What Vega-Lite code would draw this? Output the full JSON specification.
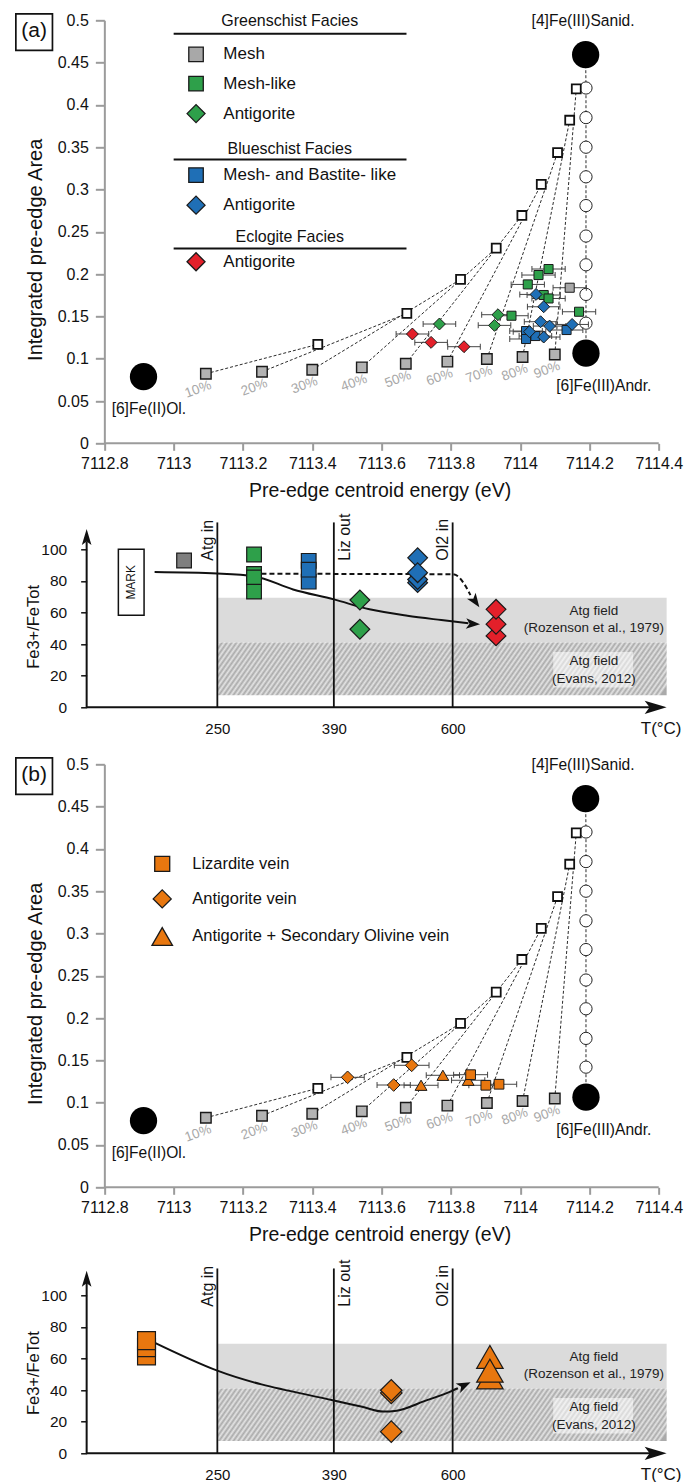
{
"$schema":"https://vega.github.io/schema/vega-lite/v6.json",
"padding":{"left":11.65,"top":10.3,"right":5,"bottom":0},
"spacing":57,
"bounds":"flush",
"config":{"view":{"stroke":null},"axis":{"grid":false},"font":"Liberation Sans"},
"resolve":{"scale":{"fill":"independent"}},
"datasets":{
"ref":[
{"k":"Ol","p":0,"x":7112.913,"y":0.0788},
{"k":"Sanid","p":100,"x":7114.189,"y":0.4594},
{"k":"Andr","p":100,"x":7114.19,"y":0.1065},
{"k":"AndrSanid","p":10,"x":7114.19,"y":0.142},
{"k":"AndrSanid","p":20,"x":7114.19,"y":0.176},
{"k":"AndrSanid","p":30,"x":7114.19,"y":0.211},
{"k":"AndrSanid","p":40,"x":7114.19,"y":0.245},
{"k":"AndrSanid","p":50,"x":7114.19,"y":0.281},
{"k":"AndrSanid","p":60,"x":7114.19,"y":0.315},
{"k":"AndrSanid","p":70,"x":7114.19,"y":0.35},
{"k":"AndrSanid","p":80,"x":7114.19,"y":0.385},
{"k":"AndrSanid","p":90,"x":7114.19,"y":0.42},
{"k":"OlAndr","p":10,"lab":"10%","x":7113.093,"y":0.0822},
{"k":"OlAndr","p":20,"lab":"20%","x":7113.255,"y":0.0846},
{"k":"OlAndr","p":30,"lab":"30%","x":7113.4,"y":0.087},
{"k":"OlAndr","p":40,"lab":"40%","x":7113.543,"y":0.0898},
{"k":"OlAndr","p":50,"lab":"50%","x":7113.67,"y":0.0941},
{"k":"OlAndr","p":60,"lab":"60%","x":7113.79,"y":0.0965},
{"k":"OlAndr","p":70,"lab":"70%","x":7113.904,"y":0.0996},
{"k":"OlAndr","p":80,"lab":"80%","x":7114.007,"y":0.102},
{"k":"OlAndr","p":90,"lab":"90%","x":7114.1,"y":0.105},
{"k":"OlSanid","p":10,"x":7113.416,"y":0.117},
{"k":"OlSanid","p":20,"x":7113.673,"y":0.1535},
{"k":"OlSanid","p":30,"x":7113.828,"y":0.1937},
{"k":"OlSanid","p":40,"x":7113.931,"y":0.2307},
{"k":"OlSanid","p":50,"x":7114.005,"y":0.2693},
{"k":"OlSanid","p":60,"x":7114.061,"y":0.3061},
{"k":"OlSanid","p":70,"x":7114.108,"y":0.3437},
{"k":"OlSanid","p":80,"x":7114.143,"y":0.3819},
{"k":"OlSanid","p":90,"x":7114.162,"y":0.4189}
],
"sA":[
{"grp":"GS Mesh-like","x":7114.082,"y":0.206,"lo":7114.034,"hi":7114.13},
{"grp":"GS Mesh-like","x":7114.053,"y":0.1989,"lo":7114.005,"hi":7114.101},
{"grp":"GS Mesh-like","x":7114.022,"y":0.1878,"lo":7113.974,"hi":7114.07},
{"grp":"GS Mesh-like","x":7114.068,"y":0.1753,"lo":7114.02,"hi":7114.116},
{"grp":"GS Mesh-like","x":7114.082,"y":0.1712,"lo":7114.034,"hi":7114.13},
{"grp":"GS Mesh-like","x":7114.17,"y":0.1555,"lo":7114.122,"hi":7114.218},
{"grp":"GS Mesh-like","x":7113.975,"y":0.1508,"lo":7113.927,"hi":7114.023},
{"grp":"GS Mesh","x":7114.143,"y":0.1839,"lo":7114.095,"hi":7114.191},
{"grp":"BS Mesh/Bastite","x":7114.017,"y":0.1327,"lo":7113.97,"hi":7114.064},
{"grp":"BS Mesh/Bastite","x":7114.044,"y":0.1268,"lo":7113.997,"hi":7114.091},
{"grp":"BS Mesh/Bastite","x":7114.017,"y":0.1233,"lo":7113.97,"hi":7114.064},
{"grp":"BS Mesh/Bastite","x":7114.134,"y":0.1339,"lo":7114.087,"hi":7114.181},
{"grp":"GS Antigorite","x":7113.767,"y":0.141,"lo":7113.72,"hi":7113.814},
{"grp":"GS Antigorite","x":7113.936,"y":0.152,"lo":7113.889,"hi":7113.983},
{"grp":"GS Antigorite","x":7113.926,"y":0.1394,"lo":7113.879,"hi":7113.973},
{"grp":"EC Antigorite","x":7113.689,"y":0.1292,"lo":7113.642,"hi":7113.736},
{"grp":"EC Antigorite","x":7113.743,"y":0.1193,"lo":7113.696,"hi":7113.79},
{"grp":"EC Antigorite","x":7113.838,"y":0.1142,"lo":7113.791,"hi":7113.885},
{"grp":"BS Antigorite","x":7114.046,"y":0.176,"lo":7113.999,"hi":7114.093},
{"grp":"BS Antigorite","x":7114.068,"y":0.1614,"lo":7114.021,"hi":7114.115},
{"grp":"BS Antigorite","x":7114.059,"y":0.1437,"lo":7114.012,"hi":7114.106},
{"grp":"BS Antigorite","x":7114.085,"y":0.1386,"lo":7114.038,"hi":7114.132},
{"grp":"BS Antigorite","x":7114.15,"y":0.1405,"lo":7114.103,"hi":7114.197},
{"grp":"BS Antigorite","x":7114.027,"y":0.1319,"lo":7113.98,"hi":7114.074},
{"grp":"BS Antigorite","x":7114.068,"y":0.1256,"lo":7114.021,"hi":7114.115}
],
"lgA":[
{"x":7113.0646,"y":0.4598,"grp":"GS Mesh","t":"Mesh"},
{"x":7113.0646,"y":0.4251,"grp":"GS Mesh-like","t":"Mesh-like"},
{"x":7113.0646,"y":0.3897,"grp":"GS Antigorite","t":"Antigorite"},
{"x":7113.0646,"y":0.317,"grp":"BS Mesh/Bastite","t":"Mesh- and Bastite- like"},
{"x":7113.0646,"y":0.2815,"grp":"BS Antigorite","t":"Antigorite"},
{"x":7113.0646,"y":0.2146,"grp":"EC Antigorite","t":"Antigorite"}
],
"hdA":[
{"x":7113.335,"y":0.4994,"t":"Greenschist Facies"},
{"x":7113.335,"y":0.3484,"t":"Blueschist Facies"},
{"x":7113.335,"y":0.2433,"t":"Eclogite Facies"}
],
"hrA":[
{"x":7113.0,"x2":7113.672,"y":0.4842},
{"x":7113.0,"x2":7113.672,"y":0.3354},
{"x":7113.0,"x2":7113.672,"y":0.2303}
],
"ann":[
{"x":7114.033,"y":0.4994,"t":"[4]Fe(III)Sanid."},
{"x":7114.104,"y":0.0675,"t":"[6]Fe(III)Andr."},
{"x":7112.821,"y":0.041,"t":"[6]Fe(II)Ol."}
],
"xax":[{"x":7112.8,"x2":7114.4,"y":0}],
"sB":[
{"grp":"Antigorite vein","x":7113.502,"y":0.13,"lo":7113.454,"hi":7113.55},
{"grp":"Antigorite vein","x":7113.635,"y":0.1209,"lo":7113.587,"hi":7113.683},
{"grp":"Antigorite vein","x":7113.687,"y":0.1442,"lo":7113.637,"hi":7113.737},
{"grp":"Atg + Ol2 vein","x":7113.714,"y":0.1206,"lo":7113.665,"hi":7113.763},
{"grp":"Atg + Ol2 vein","x":7113.777,"y":0.1324,"lo":7113.729,"hi":7113.825},
{"grp":"Atg + Ol2 vein","x":7113.85,"y":0.1265,"lo":7113.802,"hi":7113.898},
{"grp":"Lizardite vein","x":7113.857,"y":0.1331,"lo":7113.808,"hi":7113.906},
{"grp":"Lizardite vein","x":7113.901,"y":0.1206,"lo":7113.852,"hi":7113.95},
{"grp":"Lizardite vein","x":7113.939,"y":0.1218,"lo":7113.89,"hi":7113.99}
],
"lgB":[
{"x":7112.967,"y":0.3823,"grp":"Lizardite vein","t":"Lizardite vein"},
{"x":7112.967,"y":0.3409,"grp":"Antigorite vein","t":"Antigorite vein"},
{"x":7112.967,"y":0.2965,"grp":"Atg + Ol2 vein","t":"Antigorite + Secondary Olivine vein"}
],
"vl":[{"x":250,"y":0,"y2":117},{"x":390,"y":0,"y2":117},{"x":600,"y":0,"y2":117}],
"vlt":[{"x":250,"y":92.8,"t":"Atg in"},{"x":390,"y":92.8,"t":"Liz out"},{"x":600,"y":92.8,"t":"Ol2 in"}],
"fld":[
{"f":"Rozenson","x":250,"x2":900,"y":41,"y2":69.3},
{"f":"Evans","x":250,"x2":900,"y":7.7,"y2":41}
],
"evbox":[{"x":741,"x2":853,"y":12.5,"y2":35}],
"ft":[
{"x":798,"y":61,"t":"Atg field"},
{"x":798,"y":50.5,"t":"(Rozenson et al., 1979)"},
{"x":798,"y":29.5,"t":"Atg field"},
{"x":798,"y":18.2,"t":"(Evans, 2012)"}
],
"xaxF":[{"x":100,"x2":880,"y":0}],
"xheadF":[{"x":884.6,"y":0}],
"fA":[
{"grp":"GS Mesh","x":211.8,"y":92.9},
{"grp":"GS Mesh-like","x":294.1,"y":96.7},
{"grp":"GS Mesh-like","x":294.1,"y":84.4},
{"grp":"GS Mesh-like","x":294.1,"y":82.2},
{"grp":"GS Mesh-like","x":294.1,"y":73.2},
{"grp":"BS Mesh/Bastite","x":359.8,"y":92.7},
{"grp":"BS Mesh/Bastite","x":359.8,"y":79.5},
{"grp":"BS Mesh/Bastite","x":359.8,"y":87.1},
{"grp":"GS Antigorite","x":436,"y":67.9},
{"grp":"GS Antigorite","x":436,"y":49.4},
{"grp":"BS Antigorite","x":538.1,"y":94.6},
{"grp":"BS Antigorite","x":538.1,"y":78.9},
{"grp":"BS Antigorite","x":538.1,"y":80.9},
{"grp":"BS Antigorite","x":538.1,"y":85.2},
{"grp":"EC Antigorite","x":660.8,"y":45.2},
{"grp":"EC Antigorite","x":660.8,"y":52.6},
{"grp":"EC Antigorite","x":660.8,"y":62}
],
"fB":[
{"grp":"Lizardite vein","x":168.7,"y":61.6},
{"grp":"Lizardite vein","x":168.7,"y":66.9},
{"grp":"Lizardite vein","x":168.7,"y":71.3},
{"grp":"Antigorite vein","x":491.5,"y":13.7},
{"grp":"Antigorite vein","x":491.5,"y":38.2},
{"grp":"Antigorite vein","x":491.5,"y":39.9},
{"grp":"Atg + Ol2 vein","x":652.2,"y":61},
{"grp":"Atg + Ol2 vein","x":652.2,"y":48},
{"grp":"Atg + Ol2 vein","x":652.2,"y":52.3}
],
"cA":[
{"x":178,"y":85.6},{"x":250,"y":84.7},{"x":294,"y":83},{"x":341,"y":74.6},{"x":390,"y":68.3},{"x":453,"y":62},{"x":520,"y":57.9},{"x":580,"y":55.2},{"x":622,"y":53.2}
],
"dA":[
{"x":303,"y":84.5},{"x":600,"y":84.2},{"x":609,"y":82.3},{"x":617,"y":77.5},{"x":625,"y":71}
],
"cB":[
{"x":175.4,"y":70.7},{"x":250,"y":52.3},{"x":390,"y":33.4},{"x":440,"y":29.4},{"x":477,"y":26.4},{"x":501,"y":27},{"x":550,"y":33},{"x":600,"y":39.7},{"x":607.3,"y":41.2}
]
},
"vconcat":[
{
"width":580,"height":423,
"encoding":{
"x":{"field":"x","type":"quantitative","scale":{"domain":[7112.7489,7114.4228],"nice":false,"zero":false},
"axis":{"values":[7112.8,7113,7113.2,7113.4,7113.6,7113.8,7114,7114.2,7114.4],"format":"~g","domain":false,"tickColor":"#9b9b9b","tickWidth":2,"tickSize":7,"labelFontSize":16,"labelColor":"#111111","labelPadding":5,"labelFlush":false,"labelOverlap":false,"title":"Pre-edge centroid energy (eV)","titleFontSize":19.5,"titleFontWeight":"normal","titleColor":"#111111","titleX":293,"titleY":47,"titleBaseline":"middle","titleAlign":"center","titleAngle":0}},
"y":{"field":"y","type":"quantitative","scale":{"domain":[0,0.5],"nice":false,"zero":false},
"axis":{"values":[0,0.05,0.1,0.15,0.2,0.25,0.3,0.35,0.4,0.45,0.5],"format":"~g","offset":-17.7,"domain":true,"domainColor":"#9b9b9b","domainWidth":2,"tickColor":"#9b9b9b","tickWidth":2,"tickSize":9,"labelFontSize":16,"labelColor":"#111111","labelPadding":7,"labelFlush":false,"labelOverlap":false,"title":"Integrated pre-edge Area","titleFontSize":20,"titleFontWeight":"normal","titleColor":"#111111","titleX":-68.6,"titleY":229,"titleAngle":270,"titleBaseline":"middle","titleAlign":"center"}}
},
"layer":[
{"data":{"name":"xax"},"mark":{"type":"rule","color":"#9b9b9b","strokeWidth":2},"encoding":{"x2":{"field":"x2"}}},
{"data":{"name":"ref"},"transform":[{"filter":{"field":"k","oneOf":["OlAndr","OlSanid"]}}],"mark":{"type":"line","strokeDash":[3,2],"strokeWidth":1,"color":"#2a2a2a"},"encoding":{"detail":{"field":"p","type":"nominal"}}},
{"data":{"name":"ref"},"transform":[{"filter":{"field":"k","oneOf":["Sanid","AndrSanid","Andr"]}}],"mark":{"type":"line","strokeDash":[3,2],"strokeWidth":1,"color":"#2a2a2a"},"encoding":{"order":{"field":"y","type":"quantitative"}}},
{"data":{"name":"ref"},"transform":[{"filter":{"field":"k","oneOf":["Ol","Sanid","Andr"]}}],"mark":{"type":"point","shape":"circle","size":745,"filled":true,"fill":"#000000","strokeWidth":0,"opacity":1}},
{"data":{"name":"ref"},"transform":[{"filter":{"field":"k","equal":"AndrSanid"}}],"mark":{"type":"point","shape":"circle","size":150,"filled":true,"fill":"#ffffff","stroke":"#222222","strokeWidth":1,"opacity":1}},
{"data":{"name":"ref"},"transform":[{"filter":{"field":"k","equal":"OlAndr"}}],"mark":{"type":"point","shape":"square","size":110,"filled":true,"fill":"#b3b3b3","stroke":"#1a1a1a","strokeWidth":1.4,"opacity":1}},
{"data":{"name":"ref"},"transform":[{"filter":{"field":"k","equal":"OlSanid"}}],"mark":{"type":"point","shape":"square","size":80,"filled":true,"fill":"#ffffff","stroke":"#111111","strokeWidth":1.8,"opacity":1}},
{"data":{"name":"ref"},"transform":[{"filter":{"field":"k","equal":"OlAndr"}}],"mark":{"type":"text","angle":340,"dx":-12.6,"dy":12,"fontSize":13.5,"fill":"#a8a8a8","align":"center","baseline":"middle"},"encoding":{"text":{"field":"lab"}}},
{"data":{"name":"sA"},"mark":{"type":"rule","color":"#444444","strokeWidth":1},"encoding":{"x":{"field":"lo","type":"quantitative"},"x2":{"field":"hi"}}},
{"data":{"name":"sA"},"mark":{"type":"tick","orient":"vertical","size":6,"thickness":1,"color":"#444444","opacity":1},"encoding":{"x":{"field":"lo","type":"quantitative"}}},
{"data":{"name":"sA"},"mark":{"type":"tick","orient":"vertical","size":6,"thickness":1,"color":"#444444","opacity":1},"encoding":{"x":{"field":"hi","type":"quantitative"}}},
{"data":{"name":"sA"},"transform":[{"filter":{"field":"grp","oneOf":["GS Mesh","GS Mesh-like","BS Mesh/Bastite"]}}],"mark":{"type":"point","shape":"square","size":82,"filled":true,"stroke":"#1a1a1a","strokeWidth":1,"opacity":1},"encoding":{"fill":{"field":"grp","type":"nominal","legend":null,"scale":{"domain":["GS Mesh","GS Mesh-like","GS Antigorite","BS Mesh/Bastite","BS Antigorite","EC Antigorite"],"range":["#a8a8a8","#2ea04a","#2ea04a","#1f6fb6","#1f6fb6","#e3202a"]}}}},
{"data":{"name":"sA"},"transform":[{"filter":{"field":"grp","oneOf":["GS Antigorite","BS Antigorite","EC Antigorite"]}}],"mark":{"type":"point","shape":"diamond","size":142,"filled":true,"stroke":"#1a1a1a","strokeWidth":1,"opacity":1},"encoding":{"fill":{"field":"grp","type":"nominal","legend":null,"scale":{"domain":["GS Mesh","GS Mesh-like","GS Antigorite","BS Mesh/Bastite","BS Antigorite","EC Antigorite"],"range":["#a8a8a8","#2ea04a","#2ea04a","#1f6fb6","#1f6fb6","#e3202a"]}}}},
{"data":{"name":"lgA"},"transform":[{"filter":{"field":"grp","oneOf":["GS Mesh","GS Mesh-like","BS Mesh/Bastite"]}}],"mark":{"type":"point","shape":"square","size":210,"filled":true,"stroke":"#1a1a1a","strokeWidth":1.3,"opacity":1},"encoding":{"fill":{"field":"grp","type":"nominal","legend":null,"scale":{"domain":["GS Mesh","GS Mesh-like","GS Antigorite","BS Mesh/Bastite","BS Antigorite","EC Antigorite"],"range":["#a8a8a8","#2ea04a","#2ea04a","#1f6fb6","#1f6fb6","#e3202a"]}}}},
{"data":{"name":"lgA"},"transform":[{"filter":{"field":"grp","oneOf":["GS Antigorite","BS Antigorite","EC Antigorite"]}}],"mark":{"type":"point","shape":"diamond","size":324,"filled":true,"stroke":"#1a1a1a","strokeWidth":1.3,"opacity":1},"encoding":{"fill":{"field":"grp","type":"nominal","legend":null,"scale":{"domain":["GS Mesh","GS Mesh-like","GS Antigorite","BS Mesh/Bastite","BS Antigorite","EC Antigorite"],"range":["#a8a8a8","#2ea04a","#2ea04a","#1f6fb6","#1f6fb6","#e3202a"]}}}},
{"data":{"name":"lgA"},"mark":{"type":"text","align":"left","baseline":"middle","dx":27.3,"fontSize":17,"fill":"#111111"},"encoding":{"text":{"field":"t"}}},
{"data":{"name":"hdA"},"mark":{"type":"text","align":"center","baseline":"middle","fontSize":16,"fill":"#111111"},"encoding":{"text":{"field":"t"}}},
{"data":{"name":"hrA"},"mark":{"type":"rule","strokeWidth":2,"color":"#111111"},"encoding":{"x2":{"field":"x2"}}},
{"data":{"name":"ann"},"mark":{"type":"text","align":"left","baseline":"middle","fontSize":15.6,"fill":"#111111"},"encoding":{"text":{"field":"t"}}},
{"data":{"values":[{"x":7112.5974,"y":0.486,"t":"(a)"}]},"mark":{"type":"point","shape":"square","size":1340,"filled":true,"fill":"#ffffff","stroke":"#111111","strokeWidth":1.7,"opacity":1}},
{"data":{"values":[{"x":7112.5974,"y":0.486,"t":"(a)"}]},"mark":{"type":"text","fontSize":21,"align":"center","baseline":"middle","fill":"#111111","dy":-1},"encoding":{"text":{"field":"t"}}}
]
},
{
"width":580,"height":207,
"encoding":{
"x":{"field":"x","type":"quantitative","scale":{"domain":[100,250,390,600,900],"range":[0,130.7,247.2,366,580],"nice":false,"zero":false},
"axis":{"values":[250,390,600],"domain":false,"ticks":false,"tickSize":0,"labelFontSize":15,"labelColor":"#111111","labelPadding":14,"labelFlush":false,"labelOverlap":false,"title":"T(°C)","titleFontSize":17,"titleFontWeight":"normal","titleColor":"#111111","titleX":574,"titleY":21.5,"titleBaseline":"middle","titleAlign":"center","titleAngle":0}},
"y":{"field":"y","type":"quantitative","scale":{"domain":[0,131],"nice":false,"zero":false},
"axis":{"values":[0,20,40,60,80,100],"domain":false,"tickSize":6,"tickColor":"#111111","tickWidth":1.5,"labelFontSize":15.5,"labelColor":"#111111","labelPadding":14,"labelFlush":false,"labelOverlap":false,"title":"Fe3+/FeTot","titleFontSize":16.5,"titleFontWeight":"normal","titleColor":"#111111","titleX":-53.3,"titleY":126.1,"titleAngle":270,"titleBaseline":"middle","titleAlign":"center"}}
},
"layer":[
{"data":{"name":"fld"},"transform":[{"filter":{"field":"f","equal":"Rozenson"}}],"mark":{"type":"rect","fill":"#dbdbdb"},"encoding":{"x2":{"field":"x2"},"y2":{"field":"y2"}}},
{"data":{"name":"fld"},"transform":[{"filter":{"field":"f","equal":"Evans"}}],"mark":{"type":"rect","fill":{"gradient":"linear","x1":0,"y1":0,"x2":1.0614,"y2":0.087,"stops":[
{"offset":0,"color":"#aaaaaa"},{"offset":0.005,"color":"#e4e4e4"},{"offset":0.01,"color":"#aaaaaa"},{"offset":0.015,"color":"#e4e4e4"},{"offset":0.02,"color":"#aaaaaa"},{"offset":0.025,"color":"#e4e4e4"},{"offset":0.03,"color":"#aaaaaa"},{"offset":0.035,"color":"#e4e4e4"},{"offset":0.04,"color":"#aaaaaa"},{"offset":0.045,"color":"#e4e4e4"},
{"offset":0.05,"color":"#aaaaaa"},{"offset":0.055,"color":"#e4e4e4"},{"offset":0.06,"color":"#aaaaaa"},{"offset":0.065,"color":"#e4e4e4"},{"offset":0.07,"color":"#aaaaaa"},{"offset":0.075,"color":"#e4e4e4"},{"offset":0.08,"color":"#aaaaaa"},{"offset":0.085,"color":"#e4e4e4"},{"offset":0.09,"color":"#aaaaaa"},{"offset":0.095,"color":"#e4e4e4"},
{"offset":0.1,"color":"#aaaaaa"},{"offset":0.105,"color":"#e4e4e4"},{"offset":0.11,"color":"#aaaaaa"},{"offset":0.115,"color":"#e4e4e4"},{"offset":0.12,"color":"#aaaaaa"},{"offset":0.125,"color":"#e4e4e4"},{"offset":0.13,"color":"#aaaaaa"},{"offset":0.135,"color":"#e4e4e4"},{"offset":0.14,"color":"#aaaaaa"},{"offset":0.145,"color":"#e4e4e4"},
{"offset":0.15,"color":"#aaaaaa"},{"offset":0.155,"color":"#e4e4e4"},{"offset":0.16,"color":"#aaaaaa"},{"offset":0.165,"color":"#e4e4e4"},{"offset":0.17,"color":"#aaaaaa"},{"offset":0.175,"color":"#e4e4e4"},{"offset":0.18,"color":"#aaaaaa"},{"offset":0.185,"color":"#e4e4e4"},{"offset":0.19,"color":"#aaaaaa"},{"offset":0.195,"color":"#e4e4e4"},
{"offset":0.2,"color":"#aaaaaa"},{"offset":0.205,"color":"#e4e4e4"},{"offset":0.21,"color":"#aaaaaa"},{"offset":0.215,"color":"#e4e4e4"},{"offset":0.22,"color":"#aaaaaa"},{"offset":0.225,"color":"#e4e4e4"},{"offset":0.23,"color":"#aaaaaa"},{"offset":0.235,"color":"#e4e4e4"},{"offset":0.24,"color":"#aaaaaa"},{"offset":0.245,"color":"#e4e4e4"},
{"offset":0.25,"color":"#aaaaaa"},{"offset":0.255,"color":"#e4e4e4"},{"offset":0.26,"color":"#aaaaaa"},{"offset":0.265,"color":"#e4e4e4"},{"offset":0.27,"color":"#aaaaaa"},{"offset":0.275,"color":"#e4e4e4"},{"offset":0.28,"color":"#aaaaaa"},{"offset":0.285,"color":"#e4e4e4"},{"offset":0.29,"color":"#aaaaaa"},{"offset":0.295,"color":"#e4e4e4"},
{"offset":0.3,"color":"#aaaaaa"},{"offset":0.305,"color":"#e4e4e4"},{"offset":0.31,"color":"#aaaaaa"},{"offset":0.315,"color":"#e4e4e4"},{"offset":0.32,"color":"#aaaaaa"},{"offset":0.325,"color":"#e4e4e4"},{"offset":0.33,"color":"#aaaaaa"},{"offset":0.335,"color":"#e4e4e4"},{"offset":0.34,"color":"#aaaaaa"},{"offset":0.345,"color":"#e4e4e4"},
{"offset":0.35,"color":"#aaaaaa"},{"offset":0.355,"color":"#e4e4e4"},{"offset":0.36,"color":"#aaaaaa"},{"offset":0.365,"color":"#e4e4e4"},{"offset":0.37,"color":"#aaaaaa"},{"offset":0.375,"color":"#e4e4e4"},{"offset":0.38,"color":"#aaaaaa"},{"offset":0.385,"color":"#e4e4e4"},{"offset":0.39,"color":"#aaaaaa"},{"offset":0.395,"color":"#e4e4e4"},
{"offset":0.4,"color":"#aaaaaa"},{"offset":0.405,"color":"#e4e4e4"},{"offset":0.41,"color":"#aaaaaa"},{"offset":0.415,"color":"#e4e4e4"},{"offset":0.42,"color":"#aaaaaa"},{"offset":0.425,"color":"#e4e4e4"},{"offset":0.43,"color":"#aaaaaa"},{"offset":0.435,"color":"#e4e4e4"},{"offset":0.44,"color":"#aaaaaa"},{"offset":0.445,"color":"#e4e4e4"},
{"offset":0.45,"color":"#aaaaaa"},{"offset":0.455,"color":"#e4e4e4"},{"offset":0.46,"color":"#aaaaaa"},{"offset":0.465,"color":"#e4e4e4"},{"offset":0.47,"color":"#aaaaaa"},{"offset":0.475,"color":"#e4e4e4"},{"offset":0.48,"color":"#aaaaaa"},{"offset":0.485,"color":"#e4e4e4"},{"offset":0.49,"color":"#aaaaaa"},{"offset":0.495,"color":"#e4e4e4"},
{"offset":0.5,"color":"#aaaaaa"},{"offset":0.505,"color":"#e4e4e4"},{"offset":0.51,"color":"#aaaaaa"},{"offset":0.515,"color":"#e4e4e4"},{"offset":0.52,"color":"#aaaaaa"},{"offset":0.525,"color":"#e4e4e4"},{"offset":0.53,"color":"#aaaaaa"},{"offset":0.535,"color":"#e4e4e4"},{"offset":0.54,"color":"#aaaaaa"},{"offset":0.545,"color":"#e4e4e4"},
{"offset":0.55,"color":"#aaaaaa"},{"offset":0.555,"color":"#e4e4e4"},{"offset":0.56,"color":"#aaaaaa"},{"offset":0.565,"color":"#e4e4e4"},{"offset":0.57,"color":"#aaaaaa"},{"offset":0.575,"color":"#e4e4e4"},{"offset":0.58,"color":"#aaaaaa"},{"offset":0.585,"color":"#e4e4e4"},{"offset":0.59,"color":"#aaaaaa"},{"offset":0.595,"color":"#e4e4e4"},
{"offset":0.6,"color":"#aaaaaa"},{"offset":0.605,"color":"#e4e4e4"},{"offset":0.61,"color":"#aaaaaa"},{"offset":0.615,"color":"#e4e4e4"},{"offset":0.62,"color":"#aaaaaa"},{"offset":0.625,"color":"#e4e4e4"},{"offset":0.63,"color":"#aaaaaa"},{"offset":0.635,"color":"#e4e4e4"},{"offset":0.64,"color":"#aaaaaa"},{"offset":0.645,"color":"#e4e4e4"},
{"offset":0.65,"color":"#aaaaaa"},{"offset":0.655,"color":"#e4e4e4"},{"offset":0.66,"color":"#aaaaaa"},{"offset":0.665,"color":"#e4e4e4"},{"offset":0.67,"color":"#aaaaaa"},{"offset":0.675,"color":"#e4e4e4"},{"offset":0.68,"color":"#aaaaaa"},{"offset":0.685,"color":"#e4e4e4"},{"offset":0.69,"color":"#aaaaaa"},{"offset":0.695,"color":"#e4e4e4"},
{"offset":0.7,"color":"#aaaaaa"},{"offset":0.705,"color":"#e4e4e4"},{"offset":0.71,"color":"#aaaaaa"},{"offset":0.715,"color":"#e4e4e4"},{"offset":0.72,"color":"#aaaaaa"},{"offset":0.725,"color":"#e4e4e4"},{"offset":0.73,"color":"#aaaaaa"},{"offset":0.735,"color":"#e4e4e4"},{"offset":0.74,"color":"#aaaaaa"},{"offset":0.745,"color":"#e4e4e4"},
{"offset":0.75,"color":"#aaaaaa"},{"offset":0.755,"color":"#e4e4e4"},{"offset":0.76,"color":"#aaaaaa"},{"offset":0.765,"color":"#e4e4e4"},{"offset":0.77,"color":"#aaaaaa"},{"offset":0.775,"color":"#e4e4e4"},{"offset":0.78,"color":"#aaaaaa"},{"offset":0.785,"color":"#e4e4e4"},{"offset":0.79,"color":"#aaaaaa"},{"offset":0.795,"color":"#e4e4e4"},
{"offset":0.8,"color":"#aaaaaa"},{"offset":0.805,"color":"#e4e4e4"},{"offset":0.81,"color":"#aaaaaa"},{"offset":0.815,"color":"#e4e4e4"},{"offset":0.82,"color":"#aaaaaa"},{"offset":0.825,"color":"#e4e4e4"},{"offset":0.83,"color":"#aaaaaa"},{"offset":0.835,"color":"#e4e4e4"},{"offset":0.84,"color":"#aaaaaa"},{"offset":0.845,"color":"#e4e4e4"},
{"offset":0.85,"color":"#aaaaaa"},{"offset":0.855,"color":"#e4e4e4"},{"offset":0.86,"color":"#aaaaaa"},{"offset":0.865,"color":"#e4e4e4"},{"offset":0.87,"color":"#aaaaaa"},{"offset":0.875,"color":"#e4e4e4"},{"offset":0.88,"color":"#aaaaaa"},{"offset":0.885,"color":"#e4e4e4"},{"offset":0.89,"color":"#aaaaaa"},{"offset":0.895,"color":"#e4e4e4"},
{"offset":0.9,"color":"#aaaaaa"},{"offset":0.905,"color":"#e4e4e4"},{"offset":0.91,"color":"#aaaaaa"},{"offset":0.915,"color":"#e4e4e4"},{"offset":0.92,"color":"#aaaaaa"},{"offset":0.925,"color":"#e4e4e4"},{"offset":0.93,"color":"#aaaaaa"},{"offset":0.935,"color":"#e4e4e4"},{"offset":0.94,"color":"#aaaaaa"},{"offset":0.945,"color":"#e4e4e4"},
{"offset":0.95,"color":"#aaaaaa"},{"offset":0.955,"color":"#e4e4e4"},{"offset":0.96,"color":"#aaaaaa"},{"offset":0.965,"color":"#e4e4e4"},{"offset":0.97,"color":"#aaaaaa"},{"offset":0.975,"color":"#e4e4e4"},{"offset":0.98,"color":"#aaaaaa"},{"offset":0.985,"color":"#e4e4e4"},{"offset":0.99,"color":"#aaaaaa"},{"offset":0.995,"color":"#e4e4e4"},
{"offset":1,"color":"#aaaaaa"}]}},"encoding":{"x2":{"field":"x2"},"y2":{"field":"y2"}}},
{"data":{"name":"evbox"},"mark":{"type":"rect","fill":"#ffffff","opacity":0.55},"encoding":{"x2":{"field":"x2"},"y2":{"field":"y2"}}},
{"data":{"name":"vl"},"mark":{"type":"rule","strokeWidth":1.8,"color":"#111111"},"encoding":{"y2":{"field":"y2"}}},
{"data":{"values":[{"x":100,"y":0,"y2":105}]},"mark":{"type":"rule","strokeWidth":2,"color":"#111111"},"encoding":{"y2":{"field":"y2"}}},
{"data":{"name":"xaxF"},"mark":{"type":"rule","strokeWidth":2,"color":"#111111"},"encoding":{"x2":{"field":"x2"}}},
{"data":{"name":"xheadF"},"mark":{"type":"point","shape":"M1,0L-1,-0.6L-0.55,0L-1,0.6Z","size":484,"filled":true,"fill":"#111111","strokeWidth":0,"opacity":1}},
{"data":{"values":[{"x":100,"y":107.7}]},"mark":{"type":"point","shape":"M1,0L-1,-0.6L-0.55,0L-1,0.6Z","size":256,"angle":270,"filled":true,"fill":"#111111","strokeWidth":0,"opacity":1}},
{"data":{"values":[{"x":136.4,"x2":165.9,"y":58.2,"y2":100}]},"mark":{"type":"rect","fill":"#ffffff","stroke":"#111111","strokeWidth":1.5},"encoding":{"x2":{"field":"x2"},"y2":{"field":"y2"}}},
{"data":{"values":[{"x":151.2,"y":79.1,"t":"MARK"}]},"mark":{"type":"text","angle":270,"fontSize":12,"align":"center","baseline":"middle","fill":"#111111"},"encoding":{"text":{"field":"t"}}},
{"data":{"name":"cA"},"mark":{"type":"line","interpolate":"monotone","strokeWidth":2,"color":"#111111"}},
{"data":{"name":"dA"},"mark":{"type":"line","interpolate":"monotone","strokeWidth":2,"strokeDash":[5,3],"color":"#111111"}},
{"data":{"values":[{"x":628.6,"y":52.8}]},"mark":{"type":"point","shape":"M1,0L-1,-0.75L-0.5,0L-1,0.75Z","size":196,"angle":3,"filled":true,"fill":"#111111","strokeWidth":0,"opacity":1}},
{"data":{"values":[{"x":631.8,"y":66.9}]},"mark":{"type":"point","shape":"M1,0L-1,-0.75L-0.5,0L-1,0.75Z","size":196,"angle":55,"filled":true,"fill":"#111111","strokeWidth":0,"opacity":1}},
{"data":{"name":"fA"},"transform":[{"filter":{"field":"grp","oneOf":["GS Mesh","GS Mesh-like","BS Mesh/Bastite"]}}],"mark":{"type":"point","shape":"square","size":215,"filled":true,"stroke":"#1a1a1a","strokeWidth":1.2,"opacity":1},"encoding":{"fill":{"field":"grp","type":"nominal","legend":null,"scale":{"domain":["GS Mesh","GS Mesh-like","GS Antigorite","BS Mesh/Bastite","BS Antigorite","EC Antigorite"],"range":["#7f7f7f","#2ea04a","#2ea04a","#1f6fb6","#1f6fb6","#e3202a"]}}}},
{"data":{"name":"fA"},"transform":[{"filter":{"field":"grp","oneOf":["GS Antigorite","BS Antigorite","EC Antigorite"]}}],"mark":{"type":"point","shape":"diamond","size":390,"filled":true,"stroke":"#1a1a1a","strokeWidth":1.2,"opacity":1},"encoding":{"fill":{"field":"grp","type":"nominal","legend":null,"scale":{"domain":["GS Mesh","GS Mesh-like","GS Antigorite","BS Mesh/Bastite","BS Antigorite","EC Antigorite"],"range":["#7f7f7f","#2ea04a","#2ea04a","#1f6fb6","#1f6fb6","#e3202a"]}}}},
{"data":{"name":"vlt"},"transform":[{"filter":{"field":"t","oneOf":["Atg in","Ol2 in"]}}],"mark":{"type":"text","angle":270,"align":"left","baseline":"alphabetic","dy":-4.5,"fontSize":16,"fill":"#111111"},"encoding":{"text":{"field":"t"}}},
{"data":{"name":"vlt"},"transform":[{"filter":{"field":"t","equal":"Liz out"}}],"mark":{"type":"text","angle":270,"align":"left","baseline":"top","dy":3,"fontSize":16,"fill":"#111111"},"encoding":{"text":{"field":"t"}}},
{"data":{"name":"ft"},"mark":{"type":"text","align":"center","baseline":"middle","fontSize":13.5,"fill":"#222222"},"encoding":{"text":{"field":"t"}}}
]
},
{
"width":580,"height":423,
"encoding":{
"x":{"field":"x","type":"quantitative","scale":{"domain":[7112.7489,7114.4228],"nice":false,"zero":false},
"axis":{"values":[7112.8,7113,7113.2,7113.4,7113.6,7113.8,7114,7114.2,7114.4],"format":"~g","domain":false,"tickColor":"#9b9b9b","tickWidth":2,"tickSize":7,"labelFontSize":16,"labelColor":"#111111","labelPadding":5,"labelFlush":false,"labelOverlap":false,"title":"Pre-edge centroid energy (eV)","titleFontSize":19.5,"titleFontWeight":"normal","titleColor":"#111111","titleX":293,"titleY":47,"titleBaseline":"middle","titleAlign":"center","titleAngle":0}},
"y":{"field":"y","type":"quantitative","scale":{"domain":[0,0.5],"nice":false,"zero":false},
"axis":{"values":[0,0.05,0.1,0.15,0.2,0.25,0.3,0.35,0.4,0.45,0.5],"format":"~g","offset":-17.7,"domain":true,"domainColor":"#9b9b9b","domainWidth":2,"tickColor":"#9b9b9b","tickWidth":2,"tickSize":9,"labelFontSize":16,"labelColor":"#111111","labelPadding":7,"labelFlush":false,"labelOverlap":false,"title":"Integrated pre-edge Area","titleFontSize":20,"titleFontWeight":"normal","titleColor":"#111111","titleX":-68.6,"titleY":229,"titleAngle":270,"titleBaseline":"middle","titleAlign":"center"}}
},
"layer":[
{"data":{"name":"xax"},"mark":{"type":"rule","color":"#9b9b9b","strokeWidth":2},"encoding":{"x2":{"field":"x2"}}},
{"data":{"name":"ref"},"transform":[{"filter":{"field":"k","oneOf":["OlAndr","OlSanid"]}}],"mark":{"type":"line","strokeDash":[3,2],"strokeWidth":1,"color":"#2a2a2a"},"encoding":{"detail":{"field":"p","type":"nominal"}}},
{"data":{"name":"ref"},"transform":[{"filter":{"field":"k","oneOf":["Sanid","AndrSanid","Andr"]}}],"mark":{"type":"line","strokeDash":[3,2],"strokeWidth":1,"color":"#2a2a2a"},"encoding":{"order":{"field":"y","type":"quantitative"}}},
{"data":{"name":"ref"},"transform":[{"filter":{"field":"k","oneOf":["Ol","Sanid","Andr"]}}],"mark":{"type":"point","shape":"circle","size":745,"filled":true,"fill":"#000000","strokeWidth":0,"opacity":1}},
{"data":{"name":"ref"},"transform":[{"filter":{"field":"k","equal":"AndrSanid"}}],"mark":{"type":"point","shape":"circle","size":150,"filled":true,"fill":"#ffffff","stroke":"#222222","strokeWidth":1,"opacity":1}},
{"data":{"name":"ref"},"transform":[{"filter":{"field":"k","equal":"OlAndr"}}],"mark":{"type":"point","shape":"square","size":110,"filled":true,"fill":"#b3b3b3","stroke":"#1a1a1a","strokeWidth":1.4,"opacity":1}},
{"data":{"name":"ref"},"transform":[{"filter":{"field":"k","equal":"OlSanid"}}],"mark":{"type":"point","shape":"square","size":80,"filled":true,"fill":"#ffffff","stroke":"#111111","strokeWidth":1.8,"opacity":1}},
{"data":{"name":"ref"},"transform":[{"filter":{"field":"k","equal":"OlAndr"}}],"mark":{"type":"text","angle":340,"dx":-12.6,"dy":12,"fontSize":13.5,"fill":"#a8a8a8","align":"center","baseline":"middle"},"encoding":{"text":{"field":"lab"}}},
{"data":{"name":"sB"},"mark":{"type":"rule","color":"#444444","strokeWidth":1},"encoding":{"x":{"field":"lo","type":"quantitative"},"x2":{"field":"hi"}}},
{"data":{"name":"sB"},"mark":{"type":"tick","orient":"vertical","size":6,"thickness":1,"color":"#444444","opacity":1},"encoding":{"x":{"field":"lo","type":"quantitative"}}},
{"data":{"name":"sB"},"mark":{"type":"tick","orient":"vertical","size":6,"thickness":1,"color":"#444444","opacity":1},"encoding":{"x":{"field":"hi","type":"quantitative"}}},
{"data":{"name":"sB"},"transform":[{"filter":{"field":"grp","equal":"Antigorite vein"}}],"mark":{"type":"point","shape":"diamond","size":160,"filled":true,"fill":"#e8770f","stroke":"#1a1a1a","strokeWidth":1,"opacity":1}},
{"data":{"name":"sB"},"transform":[{"filter":{"field":"grp","equal":"Atg + Ol2 vein"}}],"mark":{"type":"point","shape":"triangle-up","size":140,"filled":true,"fill":"#e8770f","stroke":"#1a1a1a","strokeWidth":1,"opacity":1}},
{"data":{"name":"sB"},"transform":[{"filter":{"field":"grp","equal":"Lizardite vein"}}],"mark":{"type":"point","shape":"square","size":95,"filled":true,"fill":"#e8770f","stroke":"#1a1a1a","strokeWidth":1,"opacity":1}},
{"data":{"name":"lgB"},"transform":[{"filter":{"field":"grp","equal":"Lizardite vein"}}],"mark":{"type":"point","shape":"square","size":225,"filled":true,"fill":"#e8770f","stroke":"#1a1a1a","strokeWidth":1.3,"opacity":1}},
{"data":{"name":"lgB"},"transform":[{"filter":{"field":"grp","equal":"Antigorite vein"}}],"mark":{"type":"point","shape":"diamond","size":324,"filled":true,"fill":"#e8770f","stroke":"#1a1a1a","strokeWidth":1.3,"opacity":1}},
{"data":{"name":"lgB"},"transform":[{"filter":{"field":"grp","equal":"Atg + Ol2 vein"}}],"mark":{"type":"point","shape":"triangle-up","size":420,"filled":true,"fill":"#e8770f","stroke":"#1a1a1a","strokeWidth":1.3,"opacity":1}},
{"data":{"name":"lgB"},"mark":{"type":"text","align":"left","baseline":"middle","dx":30,"fontSize":16.5,"fill":"#111111"},"encoding":{"text":{"field":"t"}}},
{"data":{"name":"ann"},"mark":{"type":"text","align":"left","baseline":"middle","fontSize":15.6,"fill":"#111111"},"encoding":{"text":{"field":"t"}}},
{"data":{"values":[{"x":7112.5974,"y":0.486,"t":"(b)"}]},"mark":{"type":"point","shape":"square","size":1340,"filled":true,"fill":"#ffffff","stroke":"#111111","strokeWidth":1.7,"opacity":1}},
{"data":{"values":[{"x":7112.5974,"y":0.486,"t":"(b)"}]},"mark":{"type":"text","fontSize":21,"align":"center","baseline":"middle","fill":"#111111","dy":-1},"encoding":{"text":{"field":"t"}}}
]
},
{
"width":580,"height":209,
"encoding":{
"x":{"field":"x","type":"quantitative","scale":{"domain":[100,250,390,600,900],"range":[0,130.7,247.2,366,580],"nice":false,"zero":false},
"axis":{"values":[250,390,600],"domain":false,"ticks":false,"tickSize":0,"labelFontSize":15,"labelColor":"#111111","labelPadding":14,"labelFlush":false,"labelOverlap":false,"title":"T(°C)","titleFontSize":17,"titleFontWeight":"normal","titleColor":"#111111","titleX":574,"titleY":21.5,"titleBaseline":"middle","titleAlign":"center","titleAngle":0}},
"y":{"field":"y","type":"quantitative","scale":{"domain":[0,132.3],"nice":false,"zero":false},
"axis":{"values":[0,20,40,60,80,100],"domain":false,"tickSize":6,"tickColor":"#111111","tickWidth":1.5,"labelFontSize":15.5,"labelColor":"#111111","labelPadding":14,"labelFlush":false,"labelOverlap":false,"title":"Fe3+/FeTot","titleFontSize":16.5,"titleFontWeight":"normal","titleColor":"#111111","titleX":-53.3,"titleY":128.4,"titleAngle":270,"titleBaseline":"middle","titleAlign":"center"}}
},
"layer":[
{"data":{"name":"fld"},"transform":[{"filter":{"field":"f","equal":"Rozenson"}}],"mark":{"type":"rect","fill":"#dbdbdb"},"encoding":{"x2":{"field":"x2"},"y2":{"field":"y2"}}},
{"data":{"name":"fld"},"transform":[{"filter":{"field":"f","equal":"Evans"}}],"mark":{"type":"rect","fill":{"gradient":"linear","x1":0,"y1":0,"x2":1.0614,"y2":0.087,"stops":[
{"offset":0,"color":"#aaaaaa"},{"offset":0.005,"color":"#e4e4e4"},{"offset":0.01,"color":"#aaaaaa"},{"offset":0.015,"color":"#e4e4e4"},{"offset":0.02,"color":"#aaaaaa"},{"offset":0.025,"color":"#e4e4e4"},{"offset":0.03,"color":"#aaaaaa"},{"offset":0.035,"color":"#e4e4e4"},{"offset":0.04,"color":"#aaaaaa"},{"offset":0.045,"color":"#e4e4e4"},
{"offset":0.05,"color":"#aaaaaa"},{"offset":0.055,"color":"#e4e4e4"},{"offset":0.06,"color":"#aaaaaa"},{"offset":0.065,"color":"#e4e4e4"},{"offset":0.07,"color":"#aaaaaa"},{"offset":0.075,"color":"#e4e4e4"},{"offset":0.08,"color":"#aaaaaa"},{"offset":0.085,"color":"#e4e4e4"},{"offset":0.09,"color":"#aaaaaa"},{"offset":0.095,"color":"#e4e4e4"},
{"offset":0.1,"color":"#aaaaaa"},{"offset":0.105,"color":"#e4e4e4"},{"offset":0.11,"color":"#aaaaaa"},{"offset":0.115,"color":"#e4e4e4"},{"offset":0.12,"color":"#aaaaaa"},{"offset":0.125,"color":"#e4e4e4"},{"offset":0.13,"color":"#aaaaaa"},{"offset":0.135,"color":"#e4e4e4"},{"offset":0.14,"color":"#aaaaaa"},{"offset":0.145,"color":"#e4e4e4"},
{"offset":0.15,"color":"#aaaaaa"},{"offset":0.155,"color":"#e4e4e4"},{"offset":0.16,"color":"#aaaaaa"},{"offset":0.165,"color":"#e4e4e4"},{"offset":0.17,"color":"#aaaaaa"},{"offset":0.175,"color":"#e4e4e4"},{"offset":0.18,"color":"#aaaaaa"},{"offset":0.185,"color":"#e4e4e4"},{"offset":0.19,"color":"#aaaaaa"},{"offset":0.195,"color":"#e4e4e4"},
{"offset":0.2,"color":"#aaaaaa"},{"offset":0.205,"color":"#e4e4e4"},{"offset":0.21,"color":"#aaaaaa"},{"offset":0.215,"color":"#e4e4e4"},{"offset":0.22,"color":"#aaaaaa"},{"offset":0.225,"color":"#e4e4e4"},{"offset":0.23,"color":"#aaaaaa"},{"offset":0.235,"color":"#e4e4e4"},{"offset":0.24,"color":"#aaaaaa"},{"offset":0.245,"color":"#e4e4e4"},
{"offset":0.25,"color":"#aaaaaa"},{"offset":0.255,"color":"#e4e4e4"},{"offset":0.26,"color":"#aaaaaa"},{"offset":0.265,"color":"#e4e4e4"},{"offset":0.27,"color":"#aaaaaa"},{"offset":0.275,"color":"#e4e4e4"},{"offset":0.28,"color":"#aaaaaa"},{"offset":0.285,"color":"#e4e4e4"},{"offset":0.29,"color":"#aaaaaa"},{"offset":0.295,"color":"#e4e4e4"},
{"offset":0.3,"color":"#aaaaaa"},{"offset":0.305,"color":"#e4e4e4"},{"offset":0.31,"color":"#aaaaaa"},{"offset":0.315,"color":"#e4e4e4"},{"offset":0.32,"color":"#aaaaaa"},{"offset":0.325,"color":"#e4e4e4"},{"offset":0.33,"color":"#aaaaaa"},{"offset":0.335,"color":"#e4e4e4"},{"offset":0.34,"color":"#aaaaaa"},{"offset":0.345,"color":"#e4e4e4"},
{"offset":0.35,"color":"#aaaaaa"},{"offset":0.355,"color":"#e4e4e4"},{"offset":0.36,"color":"#aaaaaa"},{"offset":0.365,"color":"#e4e4e4"},{"offset":0.37,"color":"#aaaaaa"},{"offset":0.375,"color":"#e4e4e4"},{"offset":0.38,"color":"#aaaaaa"},{"offset":0.385,"color":"#e4e4e4"},{"offset":0.39,"color":"#aaaaaa"},{"offset":0.395,"color":"#e4e4e4"},
{"offset":0.4,"color":"#aaaaaa"},{"offset":0.405,"color":"#e4e4e4"},{"offset":0.41,"color":"#aaaaaa"},{"offset":0.415,"color":"#e4e4e4"},{"offset":0.42,"color":"#aaaaaa"},{"offset":0.425,"color":"#e4e4e4"},{"offset":0.43,"color":"#aaaaaa"},{"offset":0.435,"color":"#e4e4e4"},{"offset":0.44,"color":"#aaaaaa"},{"offset":0.445,"color":"#e4e4e4"},
{"offset":0.45,"color":"#aaaaaa"},{"offset":0.455,"color":"#e4e4e4"},{"offset":0.46,"color":"#aaaaaa"},{"offset":0.465,"color":"#e4e4e4"},{"offset":0.47,"color":"#aaaaaa"},{"offset":0.475,"color":"#e4e4e4"},{"offset":0.48,"color":"#aaaaaa"},{"offset":0.485,"color":"#e4e4e4"},{"offset":0.49,"color":"#aaaaaa"},{"offset":0.495,"color":"#e4e4e4"},
{"offset":0.5,"color":"#aaaaaa"},{"offset":0.505,"color":"#e4e4e4"},{"offset":0.51,"color":"#aaaaaa"},{"offset":0.515,"color":"#e4e4e4"},{"offset":0.52,"color":"#aaaaaa"},{"offset":0.525,"color":"#e4e4e4"},{"offset":0.53,"color":"#aaaaaa"},{"offset":0.535,"color":"#e4e4e4"},{"offset":0.54,"color":"#aaaaaa"},{"offset":0.545,"color":"#e4e4e4"},
{"offset":0.55,"color":"#aaaaaa"},{"offset":0.555,"color":"#e4e4e4"},{"offset":0.56,"color":"#aaaaaa"},{"offset":0.565,"color":"#e4e4e4"},{"offset":0.57,"color":"#aaaaaa"},{"offset":0.575,"color":"#e4e4e4"},{"offset":0.58,"color":"#aaaaaa"},{"offset":0.585,"color":"#e4e4e4"},{"offset":0.59,"color":"#aaaaaa"},{"offset":0.595,"color":"#e4e4e4"},
{"offset":0.6,"color":"#aaaaaa"},{"offset":0.605,"color":"#e4e4e4"},{"offset":0.61,"color":"#aaaaaa"},{"offset":0.615,"color":"#e4e4e4"},{"offset":0.62,"color":"#aaaaaa"},{"offset":0.625,"color":"#e4e4e4"},{"offset":0.63,"color":"#aaaaaa"},{"offset":0.635,"color":"#e4e4e4"},{"offset":0.64,"color":"#aaaaaa"},{"offset":0.645,"color":"#e4e4e4"},
{"offset":0.65,"color":"#aaaaaa"},{"offset":0.655,"color":"#e4e4e4"},{"offset":0.66,"color":"#aaaaaa"},{"offset":0.665,"color":"#e4e4e4"},{"offset":0.67,"color":"#aaaaaa"},{"offset":0.675,"color":"#e4e4e4"},{"offset":0.68,"color":"#aaaaaa"},{"offset":0.685,"color":"#e4e4e4"},{"offset":0.69,"color":"#aaaaaa"},{"offset":0.695,"color":"#e4e4e4"},
{"offset":0.7,"color":"#aaaaaa"},{"offset":0.705,"color":"#e4e4e4"},{"offset":0.71,"color":"#aaaaaa"},{"offset":0.715,"color":"#e4e4e4"},{"offset":0.72,"color":"#aaaaaa"},{"offset":0.725,"color":"#e4e4e4"},{"offset":0.73,"color":"#aaaaaa"},{"offset":0.735,"color":"#e4e4e4"},{"offset":0.74,"color":"#aaaaaa"},{"offset":0.745,"color":"#e4e4e4"},
{"offset":0.75,"color":"#aaaaaa"},{"offset":0.755,"color":"#e4e4e4"},{"offset":0.76,"color":"#aaaaaa"},{"offset":0.765,"color":"#e4e4e4"},{"offset":0.77,"color":"#aaaaaa"},{"offset":0.775,"color":"#e4e4e4"},{"offset":0.78,"color":"#aaaaaa"},{"offset":0.785,"color":"#e4e4e4"},{"offset":0.79,"color":"#aaaaaa"},{"offset":0.795,"color":"#e4e4e4"},
{"offset":0.8,"color":"#aaaaaa"},{"offset":0.805,"color":"#e4e4e4"},{"offset":0.81,"color":"#aaaaaa"},{"offset":0.815,"color":"#e4e4e4"},{"offset":0.82,"color":"#aaaaaa"},{"offset":0.825,"color":"#e4e4e4"},{"offset":0.83,"color":"#aaaaaa"},{"offset":0.835,"color":"#e4e4e4"},{"offset":0.84,"color":"#aaaaaa"},{"offset":0.845,"color":"#e4e4e4"},
{"offset":0.85,"color":"#aaaaaa"},{"offset":0.855,"color":"#e4e4e4"},{"offset":0.86,"color":"#aaaaaa"},{"offset":0.865,"color":"#e4e4e4"},{"offset":0.87,"color":"#aaaaaa"},{"offset":0.875,"color":"#e4e4e4"},{"offset":0.88,"color":"#aaaaaa"},{"offset":0.885,"color":"#e4e4e4"},{"offset":0.89,"color":"#aaaaaa"},{"offset":0.895,"color":"#e4e4e4"},
{"offset":0.9,"color":"#aaaaaa"},{"offset":0.905,"color":"#e4e4e4"},{"offset":0.91,"color":"#aaaaaa"},{"offset":0.915,"color":"#e4e4e4"},{"offset":0.92,"color":"#aaaaaa"},{"offset":0.925,"color":"#e4e4e4"},{"offset":0.93,"color":"#aaaaaa"},{"offset":0.935,"color":"#e4e4e4"},{"offset":0.94,"color":"#aaaaaa"},{"offset":0.945,"color":"#e4e4e4"},
{"offset":0.95,"color":"#aaaaaa"},{"offset":0.955,"color":"#e4e4e4"},{"offset":0.96,"color":"#aaaaaa"},{"offset":0.965,"color":"#e4e4e4"},{"offset":0.97,"color":"#aaaaaa"},{"offset":0.975,"color":"#e4e4e4"},{"offset":0.98,"color":"#aaaaaa"},{"offset":0.985,"color":"#e4e4e4"},{"offset":0.99,"color":"#aaaaaa"},{"offset":0.995,"color":"#e4e4e4"},
{"offset":1,"color":"#aaaaaa"}]}},"encoding":{"x2":{"field":"x2"},"y2":{"field":"y2"}}},
{"data":{"name":"evbox"},"mark":{"type":"rect","fill":"#ffffff","opacity":0.55},"encoding":{"x2":{"field":"x2"},"y2":{"field":"y2"}}},
{"data":{"name":"vl"},"mark":{"type":"rule","strokeWidth":1.8,"color":"#111111"},"encoding":{"y2":{"field":"y2"}}},
{"data":{"values":[{"x":100,"y":0,"y2":108}]},"mark":{"type":"rule","strokeWidth":2,"color":"#111111"},"encoding":{"y2":{"field":"y2"}}},
{"data":{"name":"xaxF"},"mark":{"type":"rule","strokeWidth":2,"color":"#111111"},"encoding":{"x2":{"field":"x2"}}},
{"data":{"name":"xheadF"},"mark":{"type":"point","shape":"M1,0L-1,-0.6L-0.55,0L-1,0.6Z","size":484,"filled":true,"fill":"#111111","strokeWidth":0,"opacity":1}},
{"data":{"values":[{"x":100,"y":110.5}]},"mark":{"type":"point","shape":"M1,0L-1,-0.6L-0.55,0L-1,0.6Z","size":256,"angle":270,"filled":true,"fill":"#111111","strokeWidth":0,"opacity":1}},
{"data":{"name":"cB"},"mark":{"type":"line","interpolate":"monotone","strokeWidth":2,"color":"#111111"}},
{"data":{"values":[{"x":616.3,"y":43.1}]},"mark":{"type":"point","shape":"M1,0L-1,-0.75L-0.5,0L-1,0.75Z","size":196,"angle":-25,"filled":true,"fill":"#111111","strokeWidth":0,"opacity":1}},
{"data":{"name":"fB"},"transform":[{"filter":{"field":"grp","equal":"Lizardite vein"}}],"mark":{"type":"point","shape":"square","size":320,"filled":true,"fill":"#e8770f","stroke":"#1a1a1a","strokeWidth":1.2,"opacity":1}},
{"data":{"name":"fB"},"transform":[{"filter":{"field":"grp","equal":"Antigorite vein"}}],"mark":{"type":"point","shape":"diamond","size":460,"filled":true,"fill":"#e8770f","stroke":"#1a1a1a","strokeWidth":1.2,"opacity":1}},
{"data":{"name":"fB"},"transform":[{"filter":{"field":"grp","equal":"Atg + Ol2 vein"}}],"mark":{"type":"point","shape":"triangle-up","size":700,"filled":true,"fill":"#e8770f","stroke":"#1a1a1a","strokeWidth":1.2,"opacity":1}},
{"data":{"name":"vlt"},"transform":[{"filter":{"field":"t","oneOf":["Atg in","Ol2 in"]}}],"mark":{"type":"text","angle":270,"align":"left","baseline":"alphabetic","dy":-4.5,"fontSize":16,"fill":"#111111"},"encoding":{"text":{"field":"t"}}},
{"data":{"name":"vlt"},"transform":[{"filter":{"field":"t","equal":"Liz out"}}],"mark":{"type":"text","angle":270,"align":"left","baseline":"top","dy":3,"fontSize":16,"fill":"#111111"},"encoding":{"text":{"field":"t"}}},
{"data":{"name":"ft"},"mark":{"type":"text","align":"center","baseline":"middle","fontSize":13.5,"fill":"#222222"},"encoding":{"text":{"field":"t"}}}
]
}
]
}
